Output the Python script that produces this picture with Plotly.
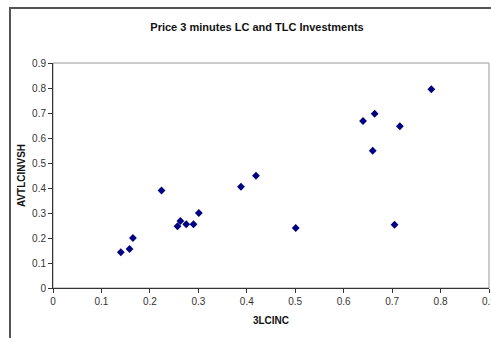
import plotly.graph_objects as go

# 3-minute LC vs TLC investment observations
lc_inc = [0.140, 0.158, 0.165, 0.224, 0.257, 0.263, 0.275, 0.290, 0.301, 0.388,
          0.419, 0.501, 0.640, 0.664, 0.660, 0.716, 0.705, 0.781]
tlc_invsh = [0.143, 0.156, 0.200, 0.390, 0.247, 0.268, 0.255, 0.255, 0.300, 0.405,
             0.449, 0.240, 0.668, 0.697, 0.549, 0.647, 0.253, 0.795]

x_ticks = [0, 0.1, 0.2, 0.3, 0.4, 0.5, 0.6, 0.7, 0.8, 0.9]
y_ticks = [0, 0.1, 0.2, 0.3, 0.4, 0.5, 0.6, 0.7, 0.8, 0.9]

font_main = "Liberation Sans Narrow, Liberation Sans, Arial, sans-serif"

fig = go.Figure(
    go.Scatter(
        x=lc_inc, y=tlc_invsh, mode="markers",
        marker=dict(symbol="diamond", size=6, color="#000080"),
        cliponaxis=False,
    )
)

fig.update_layout(
    width=491, height=338,
    margin=dict(l=53, r=2, t=63, b=50),
    paper_bgcolor="white", plot_bgcolor="white",
    showlegend=False,
    title=dict(
        text="<b>Price 3 minutes LC and TLC Investments</b>",
        x=(257 - 53) / 436, xref="paper", xanchor="center",
        y=1 - 27 / 338, yref="container", yanchor="middle",
        font=dict(family=font_main, size=11, color="#111111"),
    ),
)

fig.update_xaxes(
    range=[0, 0.9], tickvals=x_ticks, ticktext=[f"{v:g}" for v in x_ticks],
    showgrid=False, zeroline=False, automargin=False,
    showline=True, linecolor="#333333", linewidth=1,
    ticks="outside", ticklen=4, tickcolor="#333333",
    ticklabeloverflow="allow",
    tickfont=dict(family=font_main, size=10, color="#333333"),
    title=dict(text="<b>3LCINC</b>", standoff=10,
               font=dict(family=font_main, size=10, color="#111111")),
)
fig.update_yaxes(
    range=[0, 0.9], tickvals=y_ticks, ticktext=[f"{v:g}" for v in y_ticks],
    showgrid=False, zeroline=False, automargin=False,
    showline=True, linecolor="#333333", linewidth=1,
    ticks="outside", ticklen=4, tickcolor="#333333",
    tickfont=dict(family=font_main, size=10, color="#333333"),
    title=dict(text="<b>AVTLCINVSH</b>", standoff=4,
               font=dict(family=font_main, size=10, color="#111111")),
)

# plot-area frame (top/right in grey) and the outer chart border
fig.add_shape(type="rect", xref="paper", yref="paper", x0=0, y0=0, x1=1, y1=1,
              line=dict(color="#999999", width=1), layer="below")
fig.add_shape(type="rect", xref="paper", yref="paper",
              x0=(10 - 53) / 436, y0=-1.0, x1=2.0, y1=1 + (63 - 8) / 225,
              line=dict(color="#555555", width=2), layer="below")

fig.write_html("out.html")
